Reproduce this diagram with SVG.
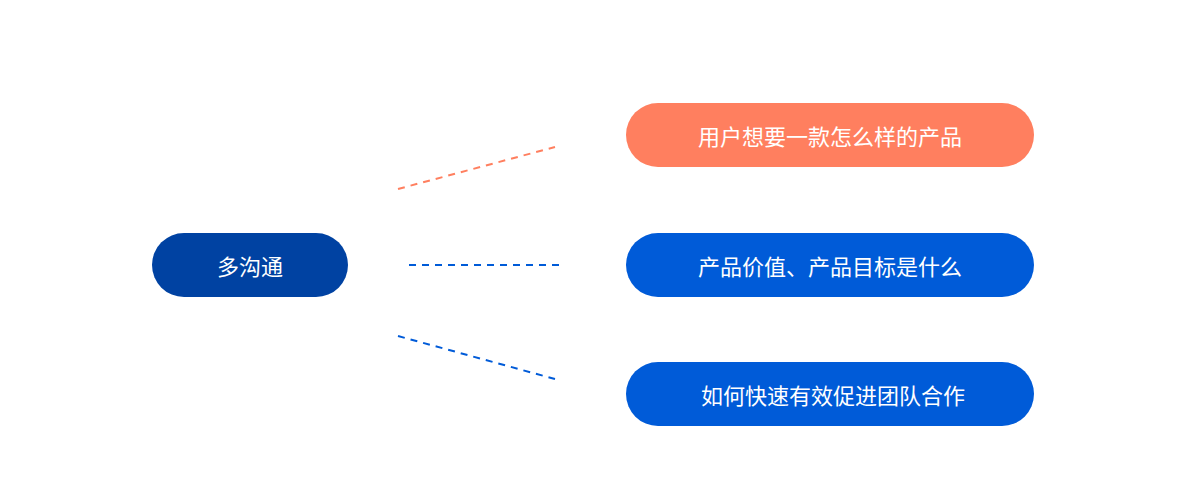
<svg xmlns="http://www.w3.org/2000/svg" width="1189" height="488" viewBox="0 0 1189 488">
<style>
.t{font-family:"Noto Sans CJK SC",sans-serif;font-size:22px;fill:#fff;text-anchor:middle;dominant-baseline:central}
.c{fill:none;stroke-width:2;stroke-dasharray:7 6}
</style>
<rect width="1189" height="488" fill="#fff"/>
<g id="connectors">
<line class="c" x1="398" y1="189" x2="555" y2="147" stroke="#FF7F5F"/>
<line class="c" x1="409" y1="265" x2="559" y2="265" stroke="#005BD8"/>
<line class="c" x1="398" y1="336" x2="555" y2="379" stroke="#005BD8"/>
</g>
<g id="n0"><rect x="152" y="233" width="196" height="64" rx="32" fill="#0042A2"/><text class="t" x="250" y="265">多沟通</text></g>
<g id="n1"><rect x="626" y="103" width="408" height="64" rx="32" fill="#FF7F5F"/><text class="t" x="830" y="135">用户想要一款怎么样的产品</text></g>
<g id="n2"><rect x="626" y="233" width="408" height="64" rx="32" fill="#005BD8"/><text class="t" x="830" y="265">产品价值、产品目标是什么</text></g>
<g id="n3"><rect x="626" y="362" width="408" height="64" rx="32" fill="#005BD8"/><text class="t" x="833" y="394">如何快速有效促进团队合作</text></g>
</svg>
